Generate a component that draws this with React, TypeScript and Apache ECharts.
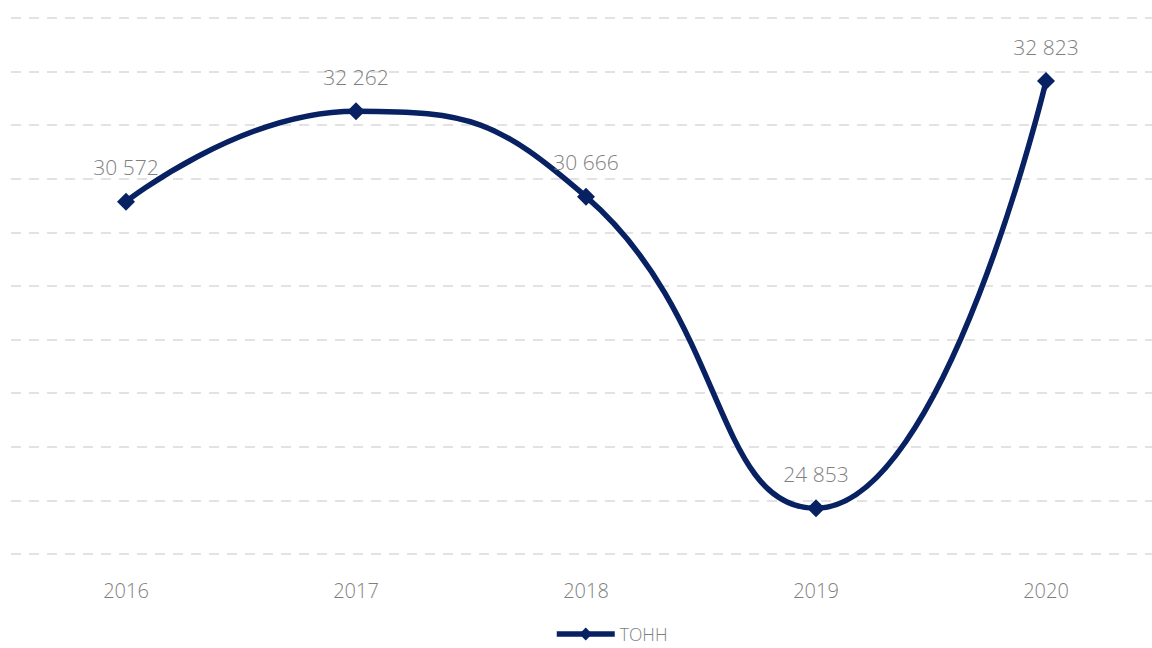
import React, { useEffect, useRef } from "react";
import * as echarts from "echarts";

const categories = ["2016", "2017", "2018", "2019", "2020"];
const values = [30572, 32262, 30666, 24853, 32823];
const seriesName = "ТОНН";
const yMin = 24000;
const yMax = 34000;
const yInterval = 1000;

const fmt = (v: number) => String(v).replace(/\B(?=(\d{3})+(?!\d))/g, " ");

export default function App() {
  const ref = useRef<HTMLDivElement>(null);
  useEffect(() => {
    if (!ref.current) return;
    const chart = echarts.init(ref.current, undefined, { renderer: "svg" });
    chart.setOption({
      animation: false,
      textStyle: { fontFamily: "Open Sans" },
      grid: { left: 11, top: 18, bottom: 94, width: 1150, containLabel: false },
      legend: {
        bottom: 0,
        left: 549,
        itemWidth: 58,
        itemHeight: 16,
        itemGap: 4,
        lineStyle: { width: 5.5 },
        textStyle: { color: "#7f7f7f", fontSize: 17.5, fontFamily: "Open Sans", fontWeight: 300 },
        data: [seriesName],
      },
      xAxis: {
        type: "category",
        data: categories,
        boundaryGap: true,
        axisLine: { show: false },
        axisTick: { show: false },
        axisLabel: { color: "#7f7f7f", fontSize: 20, margin: 26, fontWeight: 300 },
      },
      yAxis: {
        type: "value",
        min: yMin,
        max: yMax,
        interval: yInterval,
        axisLabel: { show: false },
        axisLine: { show: false },
        axisTick: { show: false },
        splitLine: {
          show: true,
          lineStyle: { color: "#d9d9d9", width: 1.5, type: [10, 8] },
        },
      },
      series: [
        {
          name: seriesName,
          type: "line",
          data: values,
          smooth: 0.5,
          symbol: "diamond",
          symbolSize: 18,
          lineStyle: { color: "#072163", width: 5.5 },
          itemStyle: { color: "#072163" },
          label: {
            show: true,
            position: "top",
            distance: 15,
            color: "#7f7f7f",
            fontSize: 21,
            fontWeight: 300,
            formatter: (p: any) => fmt(p.value),
          },
        },
      ],
    });
    return () => chart.dispose();
  }, []);
  return (
    <div style={{ position: "fixed", left: 0, top: 0, width: 1152, height: 648, overflow: "hidden", background: "#fff" }}>
      <div ref={ref} style={{ width: 1170, height: 648 }} />
    </div>
  );
}
